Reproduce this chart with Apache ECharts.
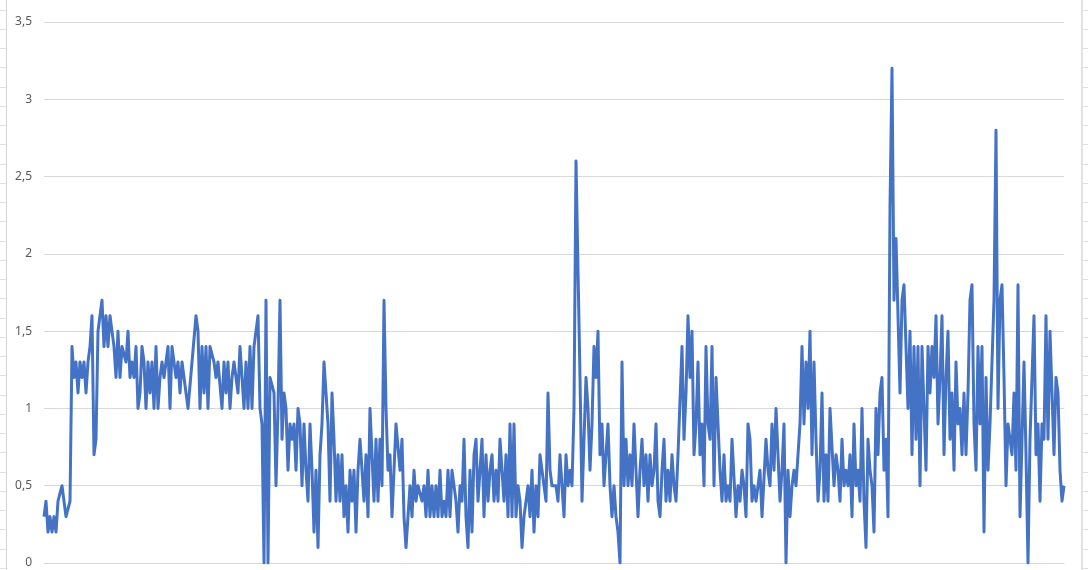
<!DOCTYPE html>
<html>
<head>
<meta charset="utf-8">
<title>chart</title>
<script src="https://cdn.jsdelivr.net/npm/echarts@6.0.0/dist/echarts.min.js"></script>
<style>
  html, body { margin: 0; padding: 0; background: #fff; }
  #dataV { width: 1088px; height: 570px; }
</style>
</head>
<body>
<div id="dataV"></div>
<script>
// values, roughly one point every 2px, split in stretches
const start = [0.3, 0.4, 0.2, 0.3, 0.2, 0.3, 0.2, 0.4, 0.4, 0.5, 0.5, 0.3, 0.3, 0.4];
const plateauA = [
  1.4, 1.2, 1.3, 1.1, 1.3, 1.2, 1.3, 1.1, 1.3, 1.4,
  1.6, 0.7, 0.8, 1.5, 1.6, 1.7, 1.4, 1.6, 1.4, 1.6,
  1.5, 1.4, 1.2, 1.5, 1.2, 1.4, 1.4, 1.3, 1.5, 1.2,
  1.3, 1.2, 1.4, 1.0, 1.1, 1.4, 1.3, 1.0, 1.3, 1.1,
  1.3, 1.0, 1.4, 1.0, 1.2, 1.3, 1.2, 1.3, 1.4
];
const plateauB = [
  1.0, 1.4, 1.4, 1.2, 1.3, 1.1, 1.3, 1.2, 1.2, 1.0,
  1.0, 1.3, 1.3, 1.6, 1.5, 1.0, 1.4, 1.1, 1.4, 1.0,
  1.4, 1.4, 1.3, 1.2, 1.3, 1.3, 1.0, 1.3, 1.1, 1.3,
  1.0, 1.2, 1.3, 1.2, 1.1, 1.4, 1.4, 1.0, 1.3, 1.0,
  1.4, 1.0, 1.4, 1.4, 1.6, 1.0, 0.9, 0.0, 1.7, 0.0,
  1.2, 1.2, 1.1, 0.5, 1.0, 1.7, 0.8, 1.1, 1.0, 0.6,
  0.9, 0.8, 0.9, 0.6, 1.0
];
const dropA = [
  0.9, 0.5, 0.9, 0.6, 0.4, 0.9, 0.6, 0.2, 0.6, 0.1,
  0.7, 0.9, 1.3, 1.3, 0.9, 0.4, 1.1, 0.8, 0.4, 0.7,
  0.4, 0.7, 0.3, 0.5, 0.2, 0.6, 0.4, 0.6, 0.2, 0.6,
  0.8, 0.8, 0.4, 0.7, 0.3, 1.0, 1.0, 0.4, 0.8, 0.4,
  0.8, 0.5, 1.7, 1.0, 0.6, 0.7, 0.3, 0.6, 0.9, 0.9,
  0.6, 0.8, 0.3, 0.1, 0.1, 0.5, 0.3, 0.6, 0.4, 0.5,
  0.5, 0.4, 0.5, 0.3
];
const dropB = [
  0.6, 0.3, 0.5, 0.3, 0.5, 0.3, 0.6, 0.3, 0.4, 0.3,
  0.6, 0.3, 0.6, 0.6, 0.4, 0.2, 0.5, 0.4, 0.8, 0.3,
  0.1, 0.6, 0.2, 0.7, 0.8, 0.4, 0.6, 0.8, 0.3, 0.7,
  0.4, 0.6, 0.7, 0.4, 0.6, 0.4, 0.8, 0.8, 0.4, 0.7,
  0.3, 0.9, 0.3, 0.9, 0.3, 0.5, 0.4, 0.1, 0.3, 0.3,
  0.5, 0.3, 0.6, 0.2, 0.5, 0.3, 0.7, 0.7, 0.5, 0.4,
  1.1, 0.6, 0.5, 0.5
];
const middle = [
  0.5, 0.4, 0.7, 0.5, 0.3, 0.7, 0.5, 0.6, 0.5, 1.0,
  2.6, 1.9, 1.2, 0.4, 0.8, 1.2, 1.0, 0.6, 0.9, 1.4,
  1.2, 1.5, 0.7, 0.9, 0.5, 0.5, 0.9, 0.5, 0.3, 0.5,
  0.3, 0.2, 0.0, 1.3, 0.5, 0.8, 0.5, 0.7, 0.5, 0.9,
  0.6, 0.3, 0.6, 0.8, 0.5, 0.7, 0.4, 0.7, 0.5, 0.6,
  0.9, 0.4, 0.3, 0.6, 0.8, 0.4, 0.6, 0.4, 0.7, 0.5,
  0.4, 0.7, 0.7, 1.4, 0.8, 1.1, 1.6, 1.2, 1.5, 0.7,
  0.9, 1.3, 0.7, 0.9, 0.5, 1.4, 0.9, 0.8, 1.4, 0.5,
  1.2, 0.9, 0.6
];
const lateA = [
  0.4, 0.7, 0.4, 0.5, 0.4, 0.8, 0.8, 0.3, 0.5, 0.4,
  0.6, 0.5, 0.3, 0.9, 0.8, 0.4, 0.5, 0.4, 0.5, 0.6,
  0.3, 0.3, 0.8, 0.6, 0.5, 0.9, 0.6, 1.0, 1.0, 0.4,
  0.6, 0.9, 0.0, 0.6, 0.3, 0.5, 0.6, 0.5, 0.5, 0.9,
  1.4, 0.9, 1.3, 1.0, 1.5, 0.7, 1.3, 0.8, 0.4, 0.6,
  1.1, 0.4, 0.7, 0.4, 1.0, 1.0, 0.5, 0.7, 0.6, 0.4,
  0.8, 0.5, 0.6, 0.5, 0.7, 0.3, 0.9, 0.5, 0.6, 0.4,
  1.0, 0.4, 0.1, 0.8, 0.6, 0.5, 0.2, 1.0, 0.7, 1.1,
  1.2, 0.6, 0.8, 0.3, 2.3
];
const lateB = [
  3.2, 1.7, 2.1, 1.6, 1.1, 1.7, 1.8, 1.4, 1.0, 1.5,
  0.7, 1.4, 0.8, 1.4, 0.5, 1.4, 1.0, 0.6, 1.4, 1.1,
  1.4, 1.2, 1.6, 0.9, 1.2, 1.6, 0.7, 1.2, 1.5, 0.8,
  1.1, 0.6, 1.3, 0.9, 1.0, 0.7, 1.1, 0.7, 1.1, 1.7,
  1.8, 0.9, 0.6, 1.4, 0.9, 1.4, 0.2, 1.2, 0.6, 0.9,
  1.3, 1.7, 2.8, 1.0, 1.7, 1.8, 1.2, 0.5, 0.9, 0.8,
  0.7, 1.1, 0.6, 1.8, 0.3, 0.3, 1.3, 0.7, 0.0, 0.8,
  1.2, 1.6, 0.7, 0.9, 0.4, 0.9, 0.8, 1.6, 0.8, 1.5,
  1.1, 0.7, 1.2, 1.1, 0.6, 0.4, 0.5
];
const yTickLabels = ["0", "0,5", "1", "1,5", "2", "2,5", "3", "3,5"];

const values = [].concat(start, plateauA, plateauB, dropA, dropB, middle, lateA, lateB);
// x categories are just the sample numbers, the labels are cut off in the picture
const categories = values.map((v, i) => i + 1);

// spreadsheet cell borders peeking out on both sides
let sheet = [
  { type: "rect", shape: { x: 6, y: 0, width: 1, height: 570 }, style: { fill: "#d6d6d6" }, silent: true },
  { type: "rect", shape: { x: 1081, y: 0, width: 2, height: 570 }, style: { fill: "#e2e2e2" }, silent: true }
];
for (let y = 9.5; y < 570; y += 19.25) {
  sheet.push({ type: "line", shape: { x1: 0, y1: Math.round(y) + 0.5, x2: 6, y2: Math.round(y) + 0.5 }, style: { stroke: "#e0e0e0", lineWidth: 1 }, silent: true });
  sheet.push({ type: "line", shape: { x1: 1083, y1: Math.round(y) + 0.5, x2: 1088, y2: Math.round(y) + 0.5 }, style: { stroke: "#e0e0e0", lineWidth: 1 }, silent: true });
}

let myChart = echarts.init(document.getElementById("dataV"), null, { renderer: "canvas" });
let option = {
  animation: false,
  backgroundColor: "#ffffff",
  textStyle: { fontFamily: "Noto Sans" },
  grid: { left: 44, right: 24, top: 22, bottom: 7, containLabel: false },
  xAxis: {
    type: "category",
    boundaryGap: false,
    data: categories,
    axisLine: { show: true, lineStyle: { color: "#d9d9d9", width: 1 } },
    axisTick: { show: false },
    axisLabel: { show: false },
    splitLine: { show: false }
  },
  yAxis: {
    type: "value",
    min: 0,
    max: 3.5,
    interval: 0.5,
    axisLine: { show: false },
    axisTick: { show: false },
    axisLabel: {
      color: "#595959",
      fontSize: 12,
      margin: 12,
      formatter: (v) => yTickLabels[Math.round(v / 0.5)]
    },
    splitLine: { lineStyle: { color: "#d9d9d9", width: 1 } }
  },
  series: [
    {
      type: "line",
      data: values,
      symbol: "none",
      smooth: false,
      lineStyle: { color: "#4472c4", width: 3, join: "round" },
      itemStyle: { color: "#4472c4" }
    }
  ],
  graphic: sheet
};
myChart.setOption(option);
</script>
</body>
</html>
